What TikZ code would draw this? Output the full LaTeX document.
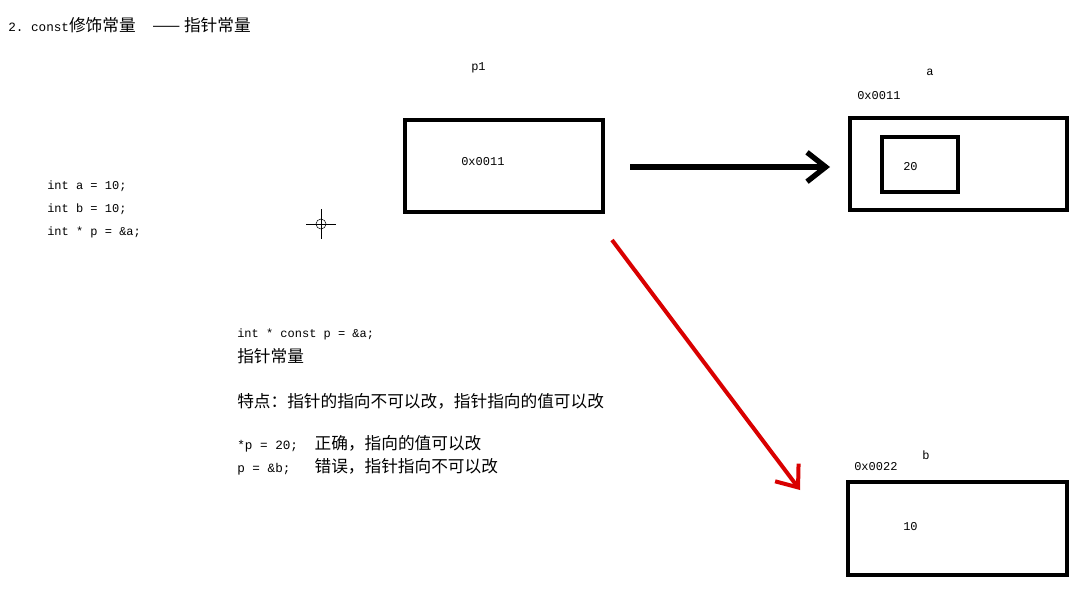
\documentclass[tikz,border=0pt]{standalone}
\usepackage{fontspec}
\setmainfont{Noto Sans CJK SC}
\setmonofont{Liberation Mono}
\usetikzlibrary{arrows.meta}
\begin{document}
\begin{tikzpicture}[x=0.75pt,y=-0.75pt,
  box/.style={draw,line width=3pt},
  lbl/.style={font=\ttfamily\fontsize{9}{10}\selectfont,inner sep=0pt,anchor=west},
  cjk/.style={font=\fontsize{12.5}{13}\selectfont,inner sep=0pt,anchor=west}]
\useasboundingbox[fill=white] (0,0) rectangle (1089,593);
\node[cjk] (title) at (8,25) {{\ttfamily\fontsize{9.5}{10}\selectfont 2. const}修饰常量\quad —— 指针常量};
\node[lbl] (p1l) at (471,68) {p1};
\draw[box] (405,120) rectangle (603,212);
\node[lbl] (p1v) at (461,162) {0x0011};
\node[lbl] (al) at (926,72) {a};
\node[lbl] (aad) at (857,96) {0x0011};
\draw[box] (850,118) rectangle (1067,210);
\draw[box] (882,137) rectangle (958,192);
\node[lbl] (av) at (903,167) {20};
\node[lbl] (c1) at (47,186) {int a = 10;};
\node[lbl] (c2) at (47,209) {int b = 10;};
\node[lbl] (c3) at (47,232) {int * p = \&a;};
\draw (321,224) circle (5);
\draw (306,224) -- (336,224) (321,209) -- (321,239);
\coordinate (bs) at (630,167); \coordinate (be) at (830,167);
\draw[line width=4pt,-{Straight Barb[length=14pt,width=22pt]}] (bs) -- (be);
\coordinate (rs) at (612,240); \coordinate (re) at (800,490);
\draw[red!85!black,line width=3pt,-{Straight Barb[length=14pt,width=22pt]}] (rs) -- (re);
\node[lbl] (t1) at (237,334) {int * const p = \&a;};
\node[cjk] (t2) at (237,356) {指针常量};
\node[cjk] (t3) at (237,401) {特点：指针的指向不可以改，指针指向的值可以改};
\node[cjk] (t4) at (237,444) {{\ttfamily\fontsize{9.5}{10}\selectfont *p = 20;}\quad 正确，指向的值可以改};
\node[cjk] (t5) at (237,467) {{\ttfamily\fontsize{9.5}{10}\selectfont p = \&b;}\quad\ \ 错误，指针指向不可以改};
\node[lbl] (bl) at (922,455) {b};
\node[lbl] (bad) at (854,467) {0x0022};
\draw[box] (848,482) rectangle (1067,575);
\node[lbl] (bv) at (903,527) {10};
\end{tikzpicture}
\end{document}
